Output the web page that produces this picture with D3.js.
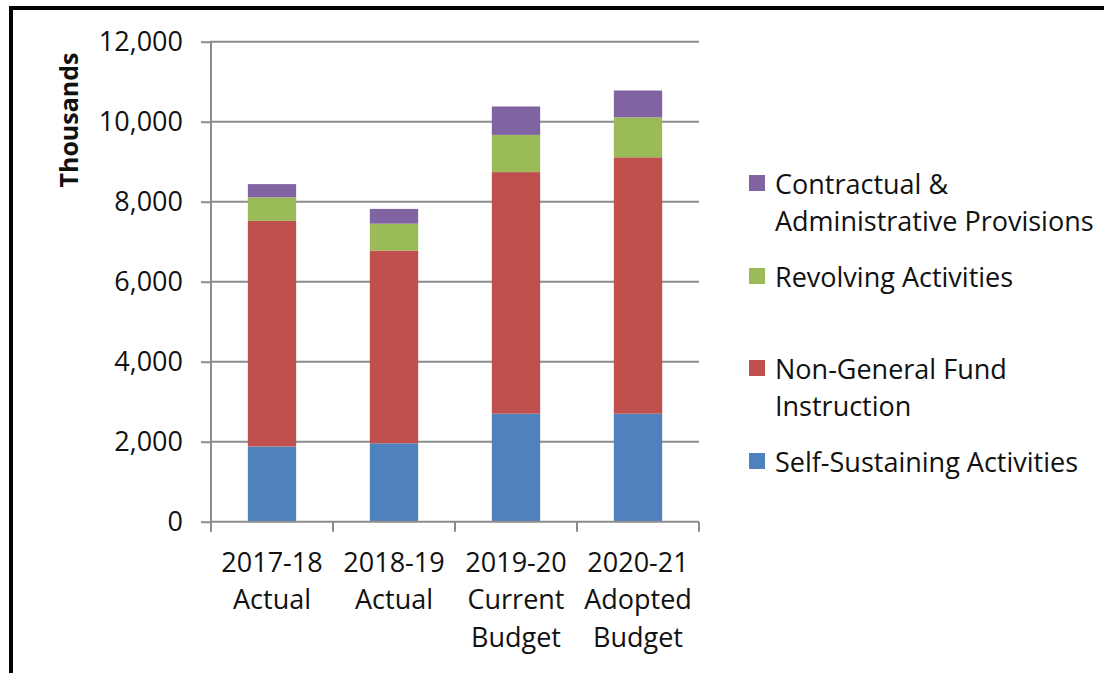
<!DOCTYPE html>
<html>
<head>
<meta charset="utf-8">
<script src="https://cdn.jsdelivr.net/npm/d3@7"></script>
<style>
  html, body { margin: 0; padding: 0; background: #fff; }
  svg { display: block; }
  text { font-family: "Open Sans", "Noto Sans", sans-serif; fill: #111; }
</style>
</head>
<body>
<svg id="chart" width="1104" height="673"></svg>
<script>
// Budget by fiscal year, in thousands of dollars
const categories = [
  ["2017-18", "Actual"],
  ["2018-19", "Actual"],
  ["2019-20", "Current", "Budget"],
  ["2020-21", "Adopted", "Budget"]
];
const seriesNames = [
  "Self-Sustaining Activities",
  "Non-General Fund Instruction",
  "Revolving Activities",
  "Contractual & Administrative Provisions"
];
const selfSustaining   = [1880, 1960, 2700, 2700];
const nonGeneralFund   = [5640, 4820, 6040, 6410];
const revolving        = [590, 670, 930, 1000];
const contractualAdmin = [330, 370, 710, 670];
const yTicks = [0, 2000, 4000, 6000, 8000, 10000, 12000];

const colors = ["#4F81BD", "#C0504D", "#9BBB59", "#8064A2"];

// legend labels, split into their drawn lines (top to bottom order)
const legendLines = [
  ["Contractual &", "Administrative Provisions"],
  ["Revolving Activities"],
  ["Non-General Fund", "Instruction"],
  ["Self-Sustaining Activities"]
];

const FONT_SIZE = 27;
const svg = d3.select("#chart");

// outer frame
svg.append("rect")
  .attr("x", 11).attr("y", 8)
  .attr("width", 1200).attr("height", 800)
  .attr("fill", "none").attr("stroke", "#000").attr("stroke-width", 4);

const plot = { left: 211, right: 699, top: 41.7, bottom: 521.7 };

const rows = categories.map((c, i) => ({
  key: i,
  s0: selfSustaining[i],
  s1: nonGeneralFund[i],
  s2: revolving[i],
  s3: contractualAdmin[i]
}));
const stack = d3.stack().keys(["s0", "s1", "s2", "s3"]);
const layers = stack(rows);

const x = d3.scaleBand()
  .domain(d3.range(categories.length))
  .range([plot.left, plot.right])
  .paddingInner(0.604).paddingOuter(0.302);
const xOuter = d3.scaleBand()
  .domain(d3.range(categories.length))
  .range([plot.left, plot.right]);

const y = d3.scaleLinear().domain([0, 12000]).range([plot.bottom, plot.top]);

const gridColor = "#8c8c8c";

// horizontal gridlines
svg.append("g")
  .selectAll("line")
  .data(yTicks.filter(t => t > 0))
  .join("line")
  .attr("x1", plot.left).attr("x2", plot.right)
  .attr("y1", d => y(d)).attr("y2", d => y(d))
  .attr("stroke", gridColor).attr("stroke-width", 2);

// bars
svg.append("g")
  .selectAll("g")
  .data(layers)
  .join("g")
  .attr("fill", (d, i) => colors[i])
  .selectAll("rect")
  .data(d => d)
  .join("rect")
  .attr("x", d => x(d.data.key))
  .attr("width", x.bandwidth())
  .attr("y", d => y(d[1]))
  .attr("height", d => y(d[0]) - y(d[1]));

// y axis
const yAxis = d3.axisLeft(y)
  .tickValues(yTicks)
  .tickSize(10)
  .tickPadding(18)
  .tickFormat(d3.format(","));
const gy = svg.append("g")
  .attr("transform", `translate(${plot.left},0)`)
  .call(yAxis);
gy.select(".domain").attr("stroke", gridColor).attr("stroke-width", 2)
  .attr("d", `M0,${plot.top - 1}V${plot.bottom + 10}`);
gy.selectAll(".tick line").attr("stroke", gridColor).attr("stroke-width", 2);
gy.selectAll(".tick text")
  .attr("font-size", FONT_SIZE)
  .attr("font-family", '"Open Sans", sans-serif')
  .attr("fill", "#111");

// x axis: boundary ticks between categories
const xEdges = d3.range(categories.length + 1).map(i =>
  i < categories.length ? xOuter(i) : plot.right);
const gx = svg.append("g");
gx.append("line")
  .attr("x1", plot.left).attr("x2", plot.right)
  .attr("y1", plot.bottom).attr("y2", plot.bottom)
  .attr("stroke", gridColor).attr("stroke-width", 2);
gx.selectAll("line.edge")
  .data(xEdges)
  .join("line")
  .attr("class", "edge")
  .attr("x1", d => d).attr("x2", d => d)
  .attr("y1", plot.bottom).attr("y2", plot.bottom + 10)
  .attr("stroke", gridColor).attr("stroke-width", 2);

// category labels
gx.selectAll("text.cat")
  .data(categories)
  .join("text")
  .attr("class", "cat")
  .attr("text-anchor", "middle")
  .attr("font-size", FONT_SIZE)
  .attr("transform", (d, i) => `translate(${xOuter(i) + xOuter.bandwidth() / 2},${plot.bottom + 50})`)
  .selectAll("tspan")
  .data(d => d)
  .join("tspan")
  .attr("x", 0)
  .attr("y", (d, i) => i * 37.5)
  .text(d => d);

// y axis title
svg.append("text")
  .attr("transform", "translate(78,120) rotate(-90)")
  .attr("text-anchor", "middle")
  .attr("font-size", 25)
  .attr("font-weight", "bold")
  .text("Thousands");

// legend
const legendItems = [
  { color: colors[3], lines: legendLines[0], y: 183 },
  { color: colors[2], lines: legendLines[1], y: 276 },
  { color: colors[1], lines: legendLines[2], y: 368 },
  { color: colors[0], lines: legendLines[3], y: 461 }
];
const lg = svg.append("g");
const item = lg.selectAll("g")
  .data(legendItems)
  .join("g")
  .attr("transform", d => `translate(749,${d.y})`);
item.append("rect")
  .attr("x", 0).attr("y", -8)
  .attr("width", 16).attr("height", 16)
  .attr("fill", d => d.color);
item.append("text")
  .attr("font-size", FONT_SIZE)
  .attr("dominant-baseline", "central")
  .selectAll("tspan")
  .data(d => d.lines)
  .join("tspan")
  .attr("x", 26)
  .attr("y", (d, i) => i * 37)
  .text(d => d);
</script>
</body>
</html>
